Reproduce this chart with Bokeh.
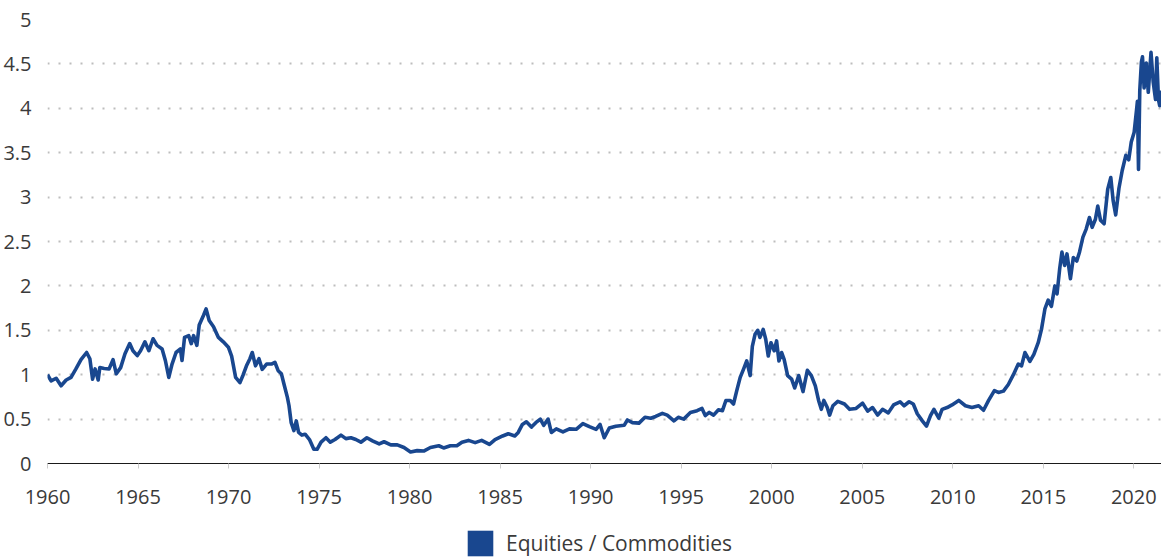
from bokeh.plotting import figure
from bokeh.layouts import column
from bokeh.models import Range1d, FixedTicker, Legend, LegendItem, NumeralTickFormatter
from bokeh.embed import file_html
from bokeh.resources import INLINE

series_name = "Equities / Commodities"

years = [
    1960.00, 1960.20, 1960.48, 1960.75, 1961.03, 1961.30, 1961.57, 1961.85, 1962.16, 1962.34,
    1962.49, 1962.63, 1962.80, 1962.89, 1963.13, 1963.40, 1963.62, 1963.80, 1964.04, 1964.28,
    1964.54, 1964.72, 1964.96, 1965.14, 1965.38, 1965.60, 1965.83, 1966.05, 1966.33, 1966.51,
    1966.70, 1966.88, 1967.10, 1967.34, 1967.43, 1967.57, 1967.80, 1967.94, 1968.07, 1968.25,
    1968.38, 1968.62, 1968.76, 1968.93, 1969.17, 1969.44, 1969.71, 1969.99, 1970.17, 1970.39,
    1970.63, 1970.81, 1970.99, 1971.18, 1971.31, 1971.49, 1971.68, 1971.86, 1972.10, 1972.37,
    1972.56, 1972.74, 1972.92, 1973.06, 1973.25, 1973.34, 1973.46, 1973.61, 1973.74, 1973.87,
    1974.05, 1974.23, 1974.47, 1974.71, 1974.89, 1975.11, 1975.38, 1975.62, 1975.88, 1976.21,
    1976.48, 1976.76, 1977.03, 1977.31, 1977.64, 1977.95, 1978.32, 1978.59, 1978.96, 1979.32,
    1979.69, 1980.05, 1980.42, 1980.78, 1981.15, 1981.61, 1981.88, 1982.25, 1982.61, 1982.89,
    1983.25, 1983.62, 1983.98, 1984.41, 1984.72, 1985.14, 1985.45, 1985.81, 1986.00, 1986.23,
    1986.45, 1986.73, 1986.97, 1987.22, 1987.41, 1987.65, 1987.83, 1988.10, 1988.47, 1988.83,
    1989.20, 1989.57, 1989.93, 1990.30, 1990.52, 1990.75, 1991.03, 1991.39, 1991.85, 1992.03,
    1992.31, 1992.67, 1993.00, 1993.32, 1993.59, 1993.96, 1994.23, 1994.60, 1994.84, 1995.14,
    1995.51, 1995.88, 1996.15, 1996.33, 1996.55, 1996.79, 1997.06, 1997.28, 1997.47, 1997.71,
    1997.89, 1998.07, 1998.26, 1998.44, 1998.62, 1998.81, 1998.93, 1999.08, 1999.23, 1999.35,
    1999.53, 1999.67, 1999.81, 1999.96, 2000.14, 2000.27, 2000.40, 2000.55, 2000.69, 2000.88,
    2001.10, 2001.27, 2001.49, 2001.73, 2001.97, 2002.19, 2002.41, 2002.59, 2002.74, 2002.88,
    2003.07, 2003.20, 2003.38, 2003.65, 2004.02, 2004.30, 2004.66, 2005.02, 2005.30, 2005.57,
    2005.85, 2006.12, 2006.44, 2006.73, 2007.09, 2007.31, 2007.59, 2007.82, 2008.04, 2008.32,
    2008.55, 2008.77, 2008.96, 2009.23, 2009.41, 2009.69, 2009.96, 2010.33, 2010.70, 2011.06,
    2011.43, 2011.70, 2011.98, 2012.30, 2012.52, 2012.80, 2013.07, 2013.35, 2013.62, 2013.80,
    2013.99, 2014.26, 2014.48, 2014.72, 2014.90, 2015.09, 2015.27, 2015.45, 2015.64, 2015.76,
    2015.91, 2016.03, 2016.18, 2016.31, 2016.50, 2016.66, 2016.85, 2017.00, 2017.19, 2017.37,
    2017.55, 2017.70, 2017.88, 2018.01, 2018.16, 2018.36, 2018.56, 2018.73, 2018.86, 2019.00,
    2019.18, 2019.36, 2019.56, 2019.72, 2019.86, 2020.02, 2020.15, 2020.20, 2020.26, 2020.33,
    2020.42, 2020.48, 2020.57, 2020.69, 2020.80, 2020.95, 2021.07, 2021.20, 2021.27, 2021.36,
    2021.43, 2021.48,
]

ratio = [
    1.00, 0.93, 0.96, 0.875, 0.94, 0.97, 1.065, 1.17, 1.25, 1.18,
    0.95, 1.065, 0.94, 1.08, 1.07, 1.065, 1.17, 1.01, 1.08, 1.235,
    1.35, 1.27, 1.215, 1.27, 1.37, 1.27, 1.405, 1.33, 1.29, 1.16,
    0.97, 1.12, 1.25, 1.29, 1.16, 1.42, 1.44, 1.35, 1.44, 1.33,
    1.56, 1.67, 1.74, 1.61, 1.54, 1.42, 1.37, 1.31, 1.21, 0.97,
    0.91, 1.00, 1.10, 1.18, 1.25, 1.10, 1.18, 1.06, 1.12, 1.12,
    1.14, 1.045, 1.01, 0.895, 0.745, 0.65, 0.46, 0.37, 0.48, 0.35,
    0.32, 0.33, 0.27, 0.16, 0.16, 0.24, 0.29, 0.24, 0.27, 0.32,
    0.28, 0.29, 0.27, 0.24, 0.29, 0.255, 0.22, 0.245, 0.21, 0.21,
    0.18, 0.13, 0.145, 0.14, 0.18, 0.20, 0.175, 0.20, 0.20, 0.24,
    0.26, 0.235, 0.26, 0.215, 0.27, 0.31, 0.335, 0.31, 0.35, 0.44,
    0.47, 0.41, 0.46, 0.50, 0.43, 0.50, 0.35, 0.39, 0.355, 0.39,
    0.385, 0.45, 0.415, 0.385, 0.44, 0.29, 0.40, 0.42, 0.43, 0.49,
    0.46, 0.455, 0.52, 0.51, 0.53, 0.565, 0.545, 0.48, 0.52, 0.50,
    0.575, 0.595, 0.62, 0.54, 0.575, 0.545, 0.605, 0.595, 0.71, 0.71,
    0.67, 0.82, 0.97, 1.06, 1.155, 0.99, 1.32, 1.455, 1.50, 1.42,
    1.51, 1.40, 1.21, 1.36, 1.27, 1.38, 1.155, 1.25, 1.17, 0.99,
    0.95, 0.85, 0.99, 0.81, 1.05, 0.99, 0.875, 0.71, 0.61, 0.71,
    0.63, 0.545, 0.65, 0.70, 0.67, 0.61, 0.62, 0.68, 0.59, 0.63,
    0.545, 0.61, 0.57, 0.66, 0.695, 0.65, 0.695, 0.67, 0.56, 0.48,
    0.42, 0.54, 0.61, 0.51, 0.61, 0.63, 0.66, 0.71, 0.65, 0.63,
    0.65, 0.60, 0.71, 0.82, 0.80, 0.815, 0.89, 1.00, 1.12, 1.10,
    1.25, 1.15, 1.23, 1.36, 1.51, 1.74, 1.84, 1.77, 2.00, 1.91,
    2.20, 2.38, 2.23, 2.36, 2.08, 2.32, 2.28, 2.38, 2.55, 2.64,
    2.77, 2.66, 2.75, 2.90, 2.74, 2.70, 3.09, 3.22, 2.96, 2.80,
    3.10, 3.30, 3.47, 3.42, 3.62, 3.73, 3.98, 4.08, 3.31, 4.20,
    4.52, 4.58, 4.23, 4.51, 4.18, 4.63, 4.30, 4.10, 4.57, 4.10,
    4.03, 4.20,
]

x_ticks = [1960, 1965, 1970, 1975, 1980, 1985, 1990, 1995, 2000, 2005, 2010, 2015, 2020]
y_ticks = [0, 0.5, 1, 1.5, 2, 2.5, 3, 3.5, 4, 4.5, 5]

BLUE = "#19478f"
FONT = "Open Sans"
TEXT = "#3a3a3a"

p = figure(width=1161, height=518, output_backend="svg", toolbar_location=None,
           x_range=Range1d(1960, 2021.53), y_range=Range1d(0, 5),
           min_border_left=40, min_border_right=0, min_border_top=19, min_border_bottom=55)
p.outline_line_color = None
p.background_fill_color = "white"
p.border_fill_color = "white"

p.line(years, ratio, line_color=BLUE, line_width=3.6, line_join="round")

xa = p.xaxis[0]
xa.ticker = FixedTicker(ticks=x_ticks)
xa.axis_line_color = "#1a1a1a"
xa.axis_line_width = 1
xa.major_tick_in = 0
xa.major_tick_out = 5
xa.major_tick_line_color = "#cccccc"
xa.minor_tick_line_color = None
xa.major_label_standoff = 21
xa.major_label_text_font = FONT
xa.major_label_text_font_size = "20px"
xa.major_label_text_color = TEXT

ya = p.yaxis[0]
ya.ticker = FixedTicker(ticks=y_ticks)
ya.formatter = NumeralTickFormatter(format="0.[0]")
ya.axis_line_color = None
ya.major_tick_line_color = None
ya.minor_tick_line_color = None
ya.major_label_standoff = 10
ya.major_label_text_font = FONT
ya.major_label_text_font_size = "20px"
ya.major_label_text_color = TEXT

p.xgrid.grid_line_color = None
p.ygrid.ticker = FixedTicker(ticks=y_ticks)
p.ygrid.grid_line_color = "#bdbdbd"
p.ygrid.grid_line_width = 2
p.ygrid.grid_line_dash = "2 9"
p.ygrid.grid_line_cap = "butt"

# legend strip below the chart
lf = figure(width=1161, height=41, output_backend="svg", toolbar_location=None,
            x_axis_location=None, y_axis_location=None,
            min_border_left=0, min_border_right=0, min_border_top=0, min_border_bottom=0)
lf.outline_line_color = None
lf.grid.grid_line_color = None
lf.border_fill_color = "white"
swatch = lf.vbar(x=years[:1], top=ratio[:1], width=0, fill_color=BLUE, line_color=None)

legend = Legend(items=[LegendItem(label=series_name, renderers=[swatch])],
                location=(417, 0), orientation="horizontal",
                glyph_width=32, glyph_height=32, label_standoff=10,
                label_text_font=FONT, label_text_font_size="21px", label_text_color=TEXT,
                padding=0, margin=0, border_line_color=None, background_fill_alpha=0,
                label_height=32)
lf.add_layout(legend, "center")

layout = column(p, lf, spacing=0)
open("out.html", "w").write(file_html(layout, INLINE))
